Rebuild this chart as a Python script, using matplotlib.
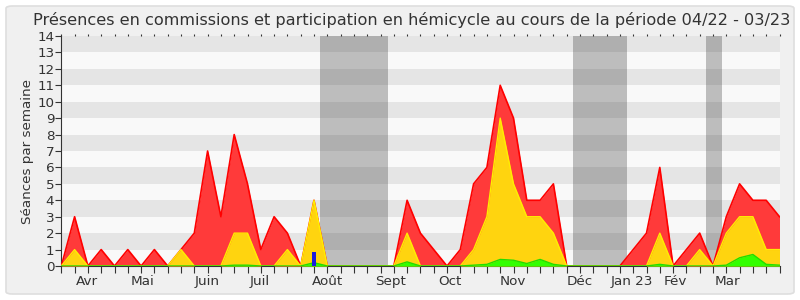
import matplotlib
matplotlib.use("Agg")
import matplotlib.pyplot as plt
from matplotlib.patches import FancyBboxPatch
import numpy as np

# weekly values, week 0 = first week of the period (04/22 - 03/23)
hemicycle = [0, 3, 0, 1, 0, 1, 0, 1, 0, 1, 2, 7, 3, 8, 5, 1, 3, 2, 0, 4,
             0, 0, 0, 0, 0, 0, 4, 2, 1, 0, 1, 5, 6, 11, 9, 4, 4, 5, 0, 0,
             0, 0, 0, 1, 2, 6, 0, 1, 2, 0, 3, 5, 4, 4, 3]
commission = [0, 1, 0, 0, 0, 0, 0, 0, 0, 1, 0, 0, 0, 2, 2, 0, 0, 1, 0, 4,
              0, 0, 0, 0, 0, 0, 2, 0, 0, 0, 0, 1, 3, 9, 5, 3, 3, 2, 0, 0,
              0, 0, 0, 0, 0, 2, 0, 0, 1, 0, 2, 3, 3, 1, 1]
interventions = [0, 0, 0, 0, 0, 0, 0, 0, 0, 0, 0, 0, 0, 0.05, 0.05, 0, 0, 0, 0, 0.2,
                 0, 0, 0, 0, 0, 0, 0.25, 0, 0, 0, 0, 0.05, 0.1, 0.4, 0.35, 0.15, 0.4, 0.1, 0, 0,
                 0, 0, 0, 0, 0, 0.1, 0, 0, 0, 0, 0.05, 0.5, 0.7, 0.1, 0.05]
questions_week = [19]
questions = [0.85]

vacances = [(19.45, 24.54), (38.47, 42.53), (48.5, 49.65)]

month_labels = ["Avr", "Mai", "Juin", "Juil", "Août", "Sept", "Oct", "Nov",
                "Déc", "Jan 23", "Fév", "Mar"]
month_pos = [1.93, 6.1, 10.96, 14.9, 19.98, 24.75, 29.2, 33.96, 39.0, 42.9, 46.2, 50.1]

weeks = np.arange(len(hemicycle))

fig = plt.figure(figsize=(8, 3), dpi=100, facecolor="white")
fig.patches.append(FancyBboxPatch((6 / 800, 6 / 300), 788 / 800, 288 / 300,
                                  boxstyle="round,pad=0,rounding_size=0.008",
                                  transform=fig.transFigure, facecolor="#f0f0f0",
                                  edgecolor="#dedede", linewidth=1.2, zorder=-10))

ax = fig.add_axes([61.3 / 800, 34 / 300, 718.2 / 800, 230 / 300])
ax.set_facecolor("#f9f9f9")
ax.set_xlim(0, len(hemicycle) - 1)
ax.set_ylim(0, 14)

for y0 in range(1, 14, 2):
    ax.axhspan(y0, y0 + 1, color="#e5e5e5", lw=0, zorder=0)
for start, end in vacances:
    ax.axvspan(start, end, color="#343434", alpha=0.3, lw=0, zorder=1)

ax.fill_between(weeks, hemicycle, color="#ff3a3a", lw=0, zorder=2)
ax.plot(weeks, hemicycle, color="#ff0000", lw=1.2, zorder=3)
ax.fill_between(weeks, commission, color="#ffd40f", lw=0, zorder=4)
ax.plot(weeks, commission, color="#ffee00", lw=1, zorder=5)
ax.fill_between(weeks, interventions, color="#33ff00", lw=0, zorder=6)
ax.plot(weeks, interventions, color="#22dd00", lw=1, zorder=7)
ax.bar(questions_week, questions, width=0.3, color="#1c1cdd", zorder=8)

for side in ["top", "right"]:
    ax.spines[side].set_visible(False)
ax.spines["left"].set_color("#333333")
ax.spines["bottom"].set_color("#333333")

ax.set_yticks(range(15))
ax.tick_params(axis="y", labelsize=9.7, colors="#333333", length=4, pad=1)
ax.set_xticks(weeks)
ax.set_xticklabels([])
ax.tick_params(axis="x", length=5, colors="#333333", top=True, direction="out")
for t in ax.xaxis.get_major_ticks():
    t.tick2line.set_markersize(1.5)
    t.tick2line.set_marker(2)

for lab, pos in zip(month_labels, month_pos):
    ax.text(pos, -0.55, lab, ha="center", va="top", fontsize=9.7, color="#333333")

ax.set_ylabel("Séances par semaine", fontsize=9.7, color="#333333", labelpad=2)
fig.text(0.514, 0.935, "Présences en commissions et participation en hémicycle au cours de la période 04/22 - 03/23",
         ha="center", va="center", fontsize=11.6, color="#333333")

fig.savefig("out.png", dpi=100, facecolor="white")
